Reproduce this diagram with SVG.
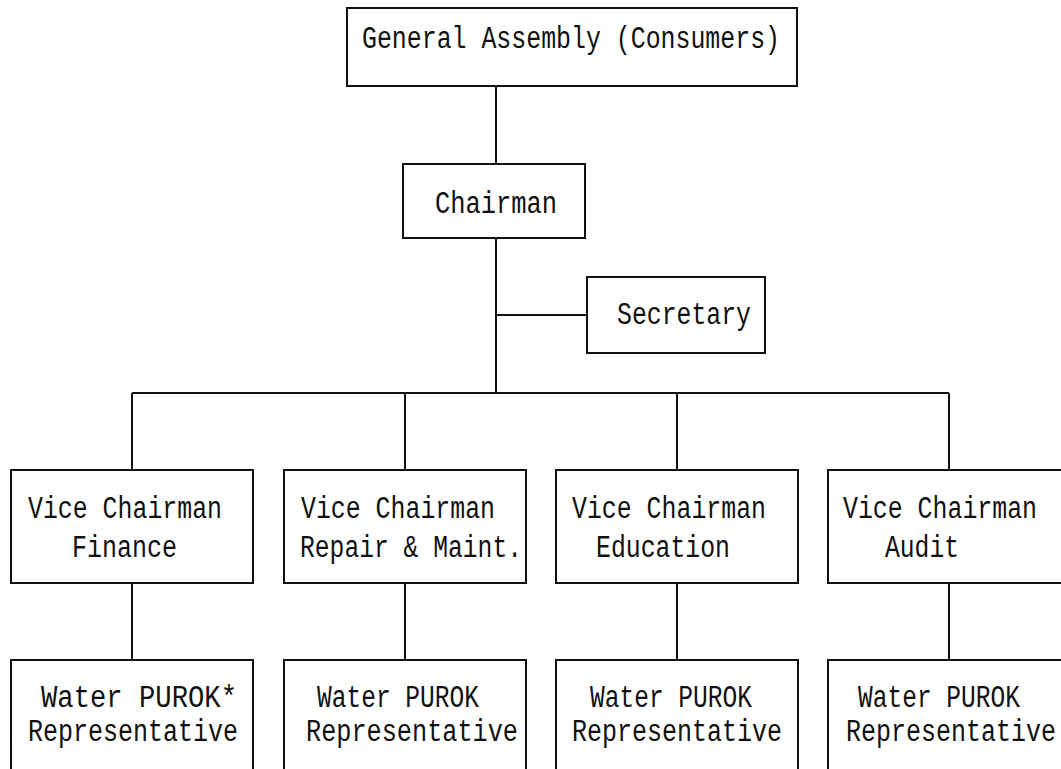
<svg xmlns="http://www.w3.org/2000/svg" width="1061" height="769" viewBox="0 0 1061 769">
<style>
.box{fill:#fff;stroke:#111;stroke-width:2}
.ln{stroke:#111;stroke-width:2;fill:none}
text{font-family:"Liberation Mono","DejaVu Sans Mono",monospace;font-size:31px;fill:#111}
</style>
<rect width="1061" height="769" fill="#fff"/>
<g id="connectors">
<path class="ln" d="M496 86V164M496 238V393M496 315H587M132 393H949M132 393V470M405 393V470M677 393V470M949 393V470M132 583V660M405 583V660M677 583V660M949 583V660"/>
</g>
<g id="general-assembly">
<rect class="box" x="347" y="8" width="450" height="78"/>
<text x="362" y="48" textLength="418" lengthAdjust="spacingAndGlyphs">General Assembly (Consumers)</text>
</g>
<g id="chairman">
<rect class="box" x="403" y="164" width="182" height="74"/>
<text x="435" y="213" textLength="122" lengthAdjust="spacingAndGlyphs">Chairman</text>
</g>
<g id="secretary">
<rect class="box" x="587" y="277" width="178" height="76"/>
<text x="617" y="324" textLength="134" lengthAdjust="spacingAndGlyphs">Secretary</text>
</g>
<g id="vc-finance">
<rect class="box" x="11" y="470" width="242" height="113"/>
<text x="28" y="518" textLength="194" lengthAdjust="spacingAndGlyphs">Vice Chairman</text>
<text x="72" y="557" textLength="105" lengthAdjust="spacingAndGlyphs">Finance</text>
</g>
<g id="vc-repair">
<rect class="box" x="284" y="470" width="242" height="113"/>
<text x="301" y="518" textLength="194" lengthAdjust="spacingAndGlyphs">Vice Chairman</text>
<text x="300" y="557" textLength="222" lengthAdjust="spacingAndGlyphs">Repair &amp; Maint.</text>
</g>
<g id="vc-education">
<rect class="box" x="556" y="470" width="242" height="113"/>
<text x="572" y="518" textLength="194" lengthAdjust="spacingAndGlyphs">Vice Chairman</text>
<text x="596" y="557" textLength="134" lengthAdjust="spacingAndGlyphs">Education</text>
</g>
<g id="vc-audit">
<rect class="box" x="828" y="470" width="242" height="113"/>
<text x="843" y="518" textLength="194" lengthAdjust="spacingAndGlyphs">Vice Chairman</text>
<text x="885" y="557" textLength="74" lengthAdjust="spacingAndGlyphs">Audit</text>
</g>
<g id="purok-1">
<rect class="box" x="11" y="660" width="242" height="130"/>
<text x="41" y="707" textLength="196" lengthAdjust="spacingAndGlyphs">Water PUROK*</text>
<text x="28" y="741" textLength="210" lengthAdjust="spacingAndGlyphs">Representative</text>
</g>
<g id="purok-2">
<rect class="box" x="284" y="660" width="242" height="130"/>
<text x="317" y="707" textLength="162" lengthAdjust="spacingAndGlyphs">Water PUROK</text>
<text x="306" y="741" textLength="212" lengthAdjust="spacingAndGlyphs">Representative</text>
</g>
<g id="purok-3">
<rect class="box" x="556" y="660" width="242" height="130"/>
<text x="590" y="707" textLength="162" lengthAdjust="spacingAndGlyphs">Water PUROK</text>
<text x="572" y="741" textLength="210" lengthAdjust="spacingAndGlyphs">Representative</text>
</g>
<g id="purok-4">
<rect class="box" x="828" y="660" width="242" height="130"/>
<text x="858" y="707" textLength="162" lengthAdjust="spacingAndGlyphs">Water PUROK</text>
<text x="846" y="741" textLength="210" lengthAdjust="spacingAndGlyphs">Representative</text>
</g>
</svg>
